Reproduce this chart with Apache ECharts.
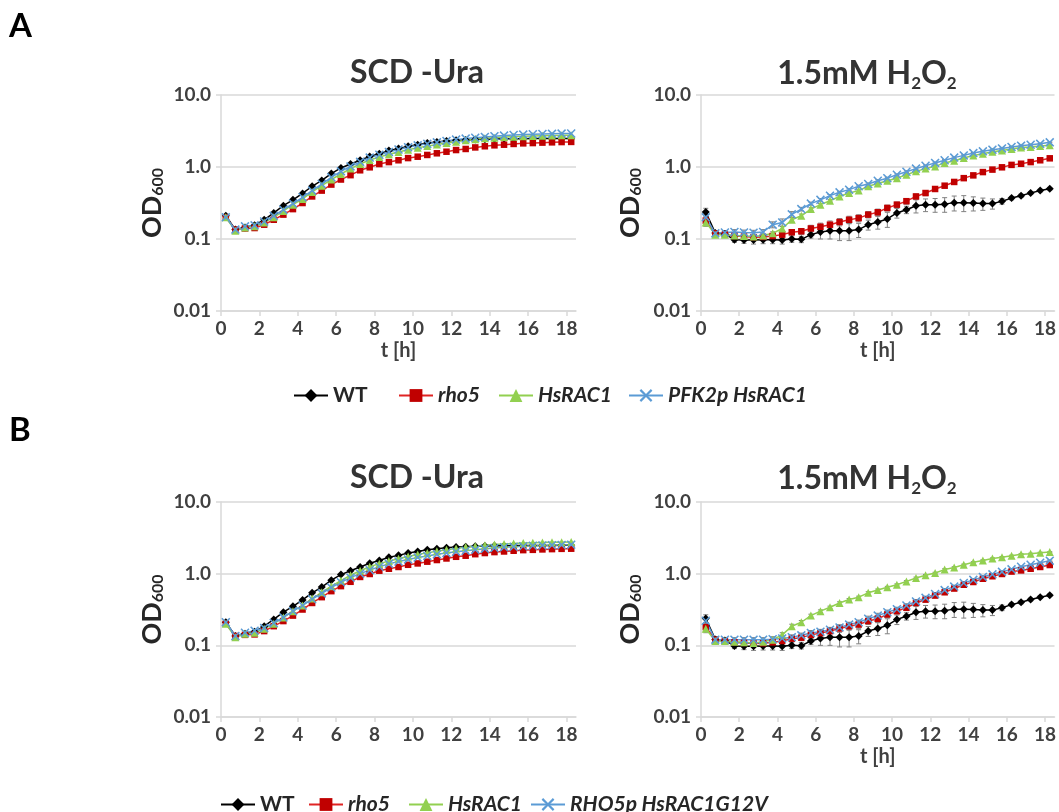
<!DOCTYPE html>
<html>
<head>
<meta charset="utf-8">
<script src="https://cdn.jsdelivr.net/npm/echarts@6/dist/echarts.min.js"></script>
<style>
  html, body { margin: 0; padding: 0; background: #ffffff; }
  #chart { width: 1059px; height: 812px; }
</style>
</head>
<body>
<div id="chart"></div>
<script>
// Sampling times (h), one reading every 30 min
const timeHours = [0.25, 0.75, 1.25, 1.75, 2.25, 2.75, 3.25, 3.75, 4.25, 4.75, 5.25, 5.75, 6.25,
  6.75, 7.25, 7.75, 8.25, 8.75, 9.25, 9.75, 10.25, 10.75, 11.25, 11.75, 12.25, 12.75, 13.25,
  13.75, 14.25, 14.75, 15.25, 15.75, 16.25, 16.75, 17.25, 17.75, 18.25];

const xTickLabels = ['0', '2', '4', '6', '8', '10', '12', '14', '16', '18'];
const yTickLabels = ['0.01', '0.1', '1.0', '10.0'];

// OD600 in SCD -Ura
const scdWT = [0.21, 0.135, 0.145, 0.155, 0.185, 0.23, 0.29, 0.35, 0.43, 0.54, 0.65, 0.81, 0.97,
  1.1, 1.24, 1.4, 1.53, 1.69, 1.8, 1.94, 2.04, 2.15, 2.22, 2.3, 2.35, 2.38, 2.41, 2.43, 2.45,
  2.46, 2.47, 2.47, 2.48, 2.48, 2.48, 2.49, 2.49];
const scdRho5 = [0.2, 0.135, 0.14, 0.142, 0.158, 0.185, 0.218, 0.26, 0.316, 0.39, 0.47, 0.57, 0.67,
  0.77, 0.9, 0.99, 1.1, 1.17, 1.24, 1.33, 1.39, 1.47, 1.55, 1.63, 1.72, 1.78, 1.87, 1.94, 2.0,
  2.04, 2.09, 2.13, 2.15, 2.18, 2.2, 2.22, 2.23];
const scdHsRAC1 = [0.2, 0.13, 0.145, 0.15, 0.17, 0.2, 0.245, 0.3, 0.36, 0.45, 0.55, 0.67, 0.8,
  0.95, 1.1, 1.25, 1.38, 1.5, 1.62, 1.74, 1.85, 1.95, 2.05, 2.15, 2.25, 2.35, 2.42, 2.5, 2.55,
  2.6, 2.64, 2.67, 2.7, 2.72, 2.74, 2.75, 2.77];
const scdPFK2pHsRAC1 = [0.2, 0.135, 0.15, 0.155, 0.175, 0.21, 0.255, 0.31, 0.38, 0.47, 0.58, 0.72, 0.87,
  1.02, 1.18, 1.35, 1.48, 1.62, 1.75, 1.88, 2.0, 2.1, 2.2, 2.3, 2.4, 2.48, 2.55, 2.62, 2.68,
  2.73, 2.78, 2.82, 2.85, 2.87, 2.89, 2.91, 2.92];
const scdRHO5pG12V = [0.21, 0.135, 0.15, 0.16, 0.175, 0.205, 0.245, 0.3, 0.36, 0.44, 0.53, 0.64, 0.76,
  0.88, 1.0, 1.12, 1.25, 1.37, 1.48, 1.58, 1.68, 1.77, 1.86, 1.94, 2.02, 2.09, 2.16, 2.22, 2.28,
  2.33, 2.37, 2.41, 2.45, 2.48, 2.5, 2.52, 2.54];

// OD600 with 1.5 mM H2O2
const h2o2WT = [0.237, 0.121, 0.117, 0.098, 0.097, 0.097, 0.098, 0.098, 0.097, 0.1, 0.099, 0.115, 0.125,
  0.13, 0.13, 0.13, 0.135, 0.158, 0.172, 0.19, 0.23, 0.255, 0.29, 0.3, 0.3, 0.305, 0.32, 0.32, 0.315,
  0.31, 0.31, 0.335, 0.37, 0.4, 0.435, 0.47, 0.5];
const h2o2Rho5 = [0.18, 0.12, 0.115, 0.11, 0.108, 0.106, 0.107, 0.11, 0.115, 0.124, 0.128, 0.14, 0.148,
  0.158, 0.172, 0.185, 0.195, 0.218, 0.235, 0.27, 0.3, 0.335, 0.39, 0.435, 0.495, 0.55, 0.62, 0.7, 0.765,
  0.85, 0.92, 0.99, 1.07, 1.11, 1.17, 1.24, 1.32];
const h2o2HsRAC1 = [0.17, 0.115, 0.115, 0.112, 0.11, 0.108, 0.112, 0.12, 0.14, 0.185, 0.21, 0.26, 0.3,
  0.34, 0.39, 0.435, 0.47, 0.54, 0.59, 0.645, 0.7, 0.78, 0.87, 0.95, 1.02, 1.14, 1.22, 1.33, 1.44,
  1.53, 1.63, 1.7, 1.78, 1.87, 1.9, 1.96, 2.0];
const h2o2PFK2pHsRAC1 = [0.2, 0.12, 0.123, 0.125, 0.123, 0.122, 0.125, 0.158, 0.17, 0.22, 0.26, 0.31, 0.35,
  0.4, 0.445, 0.485, 0.54, 0.58, 0.645, 0.7, 0.78, 0.86, 0.95, 1.04, 1.14, 1.24, 1.35, 1.45, 1.56,
  1.65, 1.74, 1.81, 1.9, 1.98, 2.04, 2.1, 2.2];
const h2o2RHO5pG12V = [0.22, 0.12, 0.12, 0.12, 0.12, 0.12, 0.12, 0.122, 0.125, 0.13, 0.138, 0.149, 0.155,
  0.165, 0.178, 0.195, 0.21, 0.235, 0.26, 0.29, 0.32, 0.36, 0.41, 0.46, 0.52, 0.59, 0.66, 0.74, 0.82,
  0.9, 0.98, 1.06, 1.15, 1.25, 1.33, 1.42, 1.52];

// Standard deviations (± OD600) for the H2O2 cultures
const h2o2WTErr = [0.03, 0.01, 0.01, 0.008, 0.01, 0.012, 0.012, 0.012, 0.012, 0.01, 0.01, 0.012, 0.025,
  0.03, 0.035, 0.035, 0.03, 0.025, 0.035, 0.045, 0.035, 0.03, 0.06, 0.06, 0.065, 0.07, 0.075, 0.08, 0.07,
  0.06, 0.05, 0.03, 0.02, 0.02, 0.02, 0.02, 0.02];
const h2o2Rho5Err = [0.015, 0.008, 0.006, 0.006, 0.006, 0.006, 0.006, 0.008, 0.008, 0.01, 0.012, 0.015, 0.018,
  0.02, 0.02, 0.022, 0.022, 0.022, 0.025, 0.025, 0.025, 0.03, 0.03, 0.035, 0.035, 0.035, 0.035, 0.04, 0.04,
  0.04, 0.04, 0.04, 0.04, 0.04, 0.04, 0.04, 0.04];
const h2o2HsRAC1Err = [0.02, 0.006, 0.005, 0.005, 0.005, 0.005, 0.005, 0.006, 0.01, 0.012, 0.012, 0.012, 0.012,
  0.012, 0.015, 0.015, 0.015, 0.02, 0.02, 0.02, 0.02, 0.02, 0.025, 0.025, 0.025, 0.03, 0.03, 0.03, 0.03,
  0.03, 0.03, 0.03, 0.03, 0.03, 0.03, 0.03, 0.03];
const h2o2PFK2pHsRAC1Err = [0.02, 0.008, 0.008, 0.01, 0.01, 0.01, 0.01, 0.015, 0.02, 0.02, 0.015, 0.015, 0.015,
  0.015, 0.015, 0.015, 0.02, 0.02, 0.02, 0.02, 0.02, 0.025, 0.025, 0.025, 0.03, 0.03, 0.03, 0.03, 0.03,
  0.03, 0.03, 0.03, 0.03, 0.03, 0.03, 0.03, 0.03];
const h2o2RHO5pG12VErr = [0.02, 0.008, 0.008, 0.008, 0.008, 0.008, 0.008, 0.01, 0.01, 0.01, 0.01, 0.012, 0.012,
  0.012, 0.015, 0.015, 0.015, 0.02, 0.02, 0.02, 0.02, 0.02, 0.025, 0.025, 0.025, 0.03, 0.03, 0.03, 0.03,
  0.03, 0.03, 0.03, 0.03, 0.03, 0.03, 0.03, 0.03];

// ---- styling ----
const FONT = 'Lato';
const TEXT_DARK = '#262626';
const TICK_COLOR = '#404040';
const GRID_COLOR = '#d9d9d9';
const crossPath = 'path://M0,1.2 L1.2,0 L5,3.8 L8.8,0 L10,1.2 L6.2,5 L10,8.8 L8.8,10 L5,6.2 L1.2,10 L0,8.8 L3.8,5 Z';

const strainStyle = {
  'WT':               { symbol: 'diamond',  size: 8,   marker: '#000000', line: '#000000' },
  'rho5':             { symbol: 'rect',     size: 6.5, marker: '#c00000', line: '#e02424' },
  'HsRAC1':           { symbol: 'triangle', size: 8,   marker: '#92d050', line: '#92d050' },
  'PFK2p HsRAC1':     { symbol: crossPath,  size: 9,   marker: '#5b9bd5', line: '#5b9bd5' },
  'RHO5p HsRAC1G12V': { symbol: crossPath,  size: 9,   marker: '#5b9bd5', line: '#5b9bd5' }
};

// panel grids: A left/right, B left/right
const grids = [
  { left: 221, top: 95,  width: 355, height: 216 },
  { left: 701, top: 95,  width: 357, height: 216 },
  { left: 221, top: 502, width: 355, height: 215 },
  { left: 701, top: 502, width: 357, height: 215 }
];

// which strains are drawn in each panel
const panels = [
  { strains: [['WT', scdWT], ['rho5', scdRho5], ['HsRAC1', scdHsRAC1], ['PFK2p HsRAC1', scdPFK2pHsRAC1]], xName: 't [h]' },
  { strains: [['WT', h2o2WT, h2o2WTErr], ['rho5', h2o2Rho5, h2o2Rho5Err], ['HsRAC1', h2o2HsRAC1, h2o2HsRAC1Err],
              ['PFK2p HsRAC1', h2o2PFK2pHsRAC1, h2o2PFK2pHsRAC1Err]], xName: 't [h]' },
  { strains: [['WT', scdWT], ['rho5', scdRho5], ['HsRAC1', scdHsRAC1], ['RHO5p HsRAC1G12V', scdRHO5pG12V]], xName: '' },
  { strains: [['WT', h2o2WT, h2o2WTErr], ['rho5', h2o2Rho5, h2o2Rho5Err], ['HsRAC1', h2o2HsRAC1, h2o2HsRAC1Err],
              ['RHO5p HsRAC1G12V', h2o2RHO5pG12V, h2o2RHO5pG12VErr]], xName: 't [h]' }
];

function yLabel(v) {
  const e = Math.round(Math.log10(v));
  return yTickLabels[e + 2] !== undefined ? yTickLabels[e + 2] : '';
}
function xLabel(v) {
  const k = xTickLabels.indexOf(String(Math.round(v)));
  return (Math.abs(v - Math.round(v)) < 1e-6 && k >= 0) ? xTickLabels[k] : '';
}

const xAxes = grids.map((g, i) => ({
  gridIndex: i,
  type: 'value',
  min: 0,
  max: 18.5,
  interval: 2,
  name: panels[i].xName,
  nameLocation: 'middle',
  nameGap: 30,
  nameTextStyle: { fontFamily: FONT, fontWeight: 'bold', fontSize: 20, color: TICK_COLOR },
  axisLine: { show: true, lineStyle: { color: GRID_COLOR, width: 1.5 } },
  axisTick: { show: true, length: 5, lineStyle: { color: GRID_COLOR, width: 1.5 } },
  splitLine: { show: false },
  axisLabel: {
    showMaxLabel: false,
    margin: 8,
    formatter: xLabel,
    fontFamily: FONT, fontWeight: 'bold', fontSize: 19, color: TICK_COLOR
  }
}));

const yAxes = grids.map((g, i) => ({
  gridIndex: i,
  type: 'log',
  logBase: 10,
  min: 0.01,
  max: 10,
  name: 'OD{s|600}',
  nameLocation: 'middle',
  nameGap: i % 2 === 0 ? 55 : 57,
  nameTextStyle: {
    fontFamily: FONT, fontWeight: 'bold', fontSize: 27, color: TEXT_DARK,
    rich: {
      s: { fontFamily: FONT, fontWeight: 'bold', fontSize: 16, color: TEXT_DARK,
           verticalAlign: 'bottom', lineHeight: 14 }
    }
  },
  axisLine: { show: true, lineStyle: { color: GRID_COLOR, width: 1.5 } },
  axisTick: { show: true, length: 5, lineStyle: { color: GRID_COLOR, width: 1.5 } },
  splitLine: { show: true, lineStyle: { color: GRID_COLOR, width: 1.5 } },
  minorTick: { show: false },
  axisLabel: {
    margin: 10,
    formatter: yLabel,
    fontFamily: FONT, fontWeight: 'bold', fontSize: 19, color: TICK_COLOR
  }
}));

// vertical error bars with short caps
function errorBarRenderer(params, api) {
  const t = api.value(0), v = api.value(1), e = api.value(2);
  const top = api.coord([t, v + e]);
  const bot = api.coord([t, Math.max(v - e, 0.011)]);
  const cap = 2.5;
  const style = { stroke: '#808080', lineWidth: 1 };
  return {
    type: 'group',
    children: [
      { type: 'line', shape: { x1: top[0], y1: top[1], x2: bot[0], y2: bot[1] }, style },
      { type: 'line', shape: { x1: top[0] - cap, y1: top[1], x2: top[0] + cap, y2: top[1] }, style },
      { type: 'line', shape: { x1: bot[0] - cap, y1: bot[1], x2: bot[0] + cap, y2: bot[1] }, style }
    ]
  };
}

const series = [];
panels.forEach((p, gi) => {
  p.strains.forEach(([name, values, errs]) => {
    if (errs) {
      series.push({
        type: 'custom',
        name: name,
        xAxisIndex: gi, yAxisIndex: gi,
        renderItem: errorBarRenderer,
        encode: { x: 0, y: 1 },
        data: timeHours.map((t, k) => [t, values[k], errs[k]]),
        silent: true,
        z: 1
      });
    }
  });
  p.strains.forEach(([name, values]) => {
    const st = strainStyle[name];
    series.push({
      type: 'line',
      name: name,
      xAxisIndex: gi, yAxisIndex: gi,
      data: timeHours.map((t, k) => [t, values[k]]),
      symbol: st.symbol,
      symbolSize: st.size,
      symbolKeepAspect: true,
      showSymbol: true,
      lineStyle: { color: st.line, width: 1.5 },
      itemStyle: { color: st.marker },
      emphasis: { disabled: true },
      animation: false,
      z: 2
    });
  });
});

// legends: one component per entry so each sits where it belongs
function legendEntry(name, left, top) {
  return {
    data: [name],
    left: left,
    top: top,
    itemWidth: 34,
    itemHeight: 16,
    selectedMode: false,
    lineStyle: { width: 2 },
    textStyle: {
      fontFamily: FONT, fontWeight: 'bold', fontSize: 21, color: TEXT_DARK,
      fontStyle: name === 'WT' ? 'normal' : 'italic'
    }
  };
}
const legendRowA = [['WT', 288], ['rho5', 393], ['HsRAC1', 493], ['PFK2p HsRAC1', 623]];
const legendRowB = [['WT', 215], ['rho5', 303], ['HsRAC1', 403], ['RHO5p HsRAC1G12V', 525]];
const legends = legendRowA.map(([n, x]) => legendEntry(n, x, 380))
  .concat(legendRowB.map(([n, x]) => legendEntry(n, x, 789)));

// panel titles and letters
const titleRich = {
  s: { fontFamily: FONT, fontWeight: 'bold', fontSize: 17, lineHeight: 14,
       verticalAlign: 'bottom', fill: '#333333' }
};
function titleText(text, x, y) {
  return {
    type: 'text', x: x, y: y,
    style: {
      text: text, fill: '#333333',
      fontFamily: FONT, fontWeight: 'bold', fontSize: 32, lineHeight: 36,
      align: 'center', verticalAlign: 'middle',
      rich: titleRich
    }
  };
}
function panelLetter(text, x, y) {
  return {
    type: 'text', x: x, y: y,
    style: { text: text, fill: '#000000', fontFamily: FONT, fontWeight: 'bold', fontSize: 33,
             align: 'left', verticalAlign: 'top' }
  };
}

const option = {
  backgroundColor: '#ffffff',
  animation: false,
  grid: grids,
  xAxis: xAxes,
  yAxis: yAxes,
  legend: legends,
  series: series,
  graphic: [
    panelLetter('A', 9, 10),
    panelLetter('B', 9, 414),
    titleText('SCD -Ura', 417, 73),
    titleText('1.5mM H{s|2}O{s|2}', 867, 74),
    titleText('SCD -Ura', 417, 478),
    titleText('1.5mM H{s|2}O{s|2}', 867, 479)
  ]
};

const chart = echarts.init(document.getElementById('chart'), null, { renderer: 'canvas' });
chart.setOption(option);
</script>
</body>
</html>
